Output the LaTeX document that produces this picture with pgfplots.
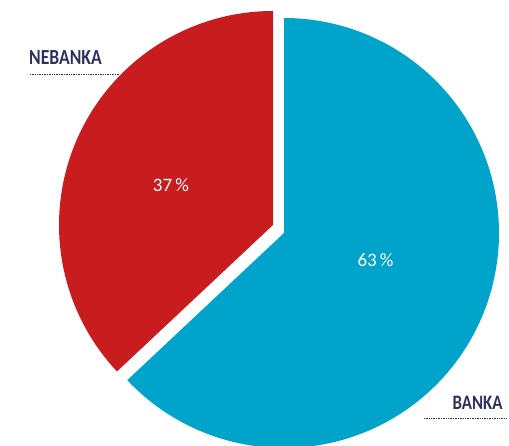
\documentclass[border=0pt]{standalone}
\usepackage{pgfplots}
\pgfplotsset{compat=1.18}
\usepackage{fontspec}
\setmainfont{Carlito}
\definecolor{bankblue}{RGB}{0,163,201}
\definecolor{nebred}{RGB}{200,28,30}
\definecolor{labnavy}{RGB}{46,48,94}
% shares in percent
\def\banka{63}
\def\nebanka{37}
\begin{document}
\begin{tikzpicture}
\pgfmathsetmacro{\angsplit}{90-3.6*\banka}
\begin{axis}[x=1bp, y=1bp, xmin=0, xmax=509, ymin=0, ymax=446,
  hide axis, clip=false, scale only axis]
  % BANKA slice, centre (284,213)
  \addplot[fill=bankblue, draw=none, domain=\angsplit:90, samples=150]
    ({284+215*cos(x)}, {213+215*sin(x)}) -- (axis cs:284,213) -- cycle;
  % NEBANKA slice, pulled out
  \addplot[fill=nebred, draw=none, domain=-270:\angsplit, samples=100]
    ({273+214*cos(x)}, {221+214*sin(x)}) -- (axis cs:273,221) -- cycle;
  \node[text=white, font=\fontsize{19bp}{22bp}\selectfont] at (axis cs:171,261) {\nebanka\,\%};
  \node[text=white, font=\fontsize{19bp}{22bp}\selectfont] at (axis cs:375.5,186) {\banka\,\%};
  \node[text=labnavy, font=\fontsize{21.5bp}{24bp}\selectfont\bfseries] at (axis cs:65.5,388) {\scalebox{0.82}[1]{NEBANKA}};
  \node[text=labnavy, font=\fontsize{20.5bp}{24bp}\selectfont\bfseries] at (axis cs:477.5,43.5) {\scalebox{0.82}[1]{BANKA}};
  \draw[labnavy, dash pattern=on 0.8bp off 0.9bp, line width=0.8bp] (axis cs:30,372) -- (axis cs:120,372);
  \draw[labnavy, dash pattern=on 0.8bp off 0.9bp, line width=0.8bp] (axis cs:424,28) -- (axis cs:507,28);
  \coordinate (sw) at (axis cs:0,0);
  \coordinate (ne) at (axis cs:509,446);
\end{axis}
\pgfresetboundingbox
\path (sw) rectangle (ne);
\end{tikzpicture}
\end{document}
